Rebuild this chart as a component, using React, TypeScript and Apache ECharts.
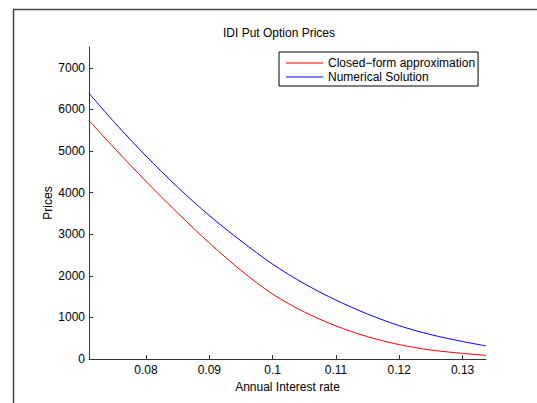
import React, { useEffect, useRef } from "react";
import * as echarts from "echarts";

const rates = [0.071, 0.075, 0.08, 0.085, 0.09, 0.095, 0.1, 0.105, 0.11, 0.115, 0.12, 0.125, 0.13, 0.1337];
const closedForm = [5730, 5070, 4270, 3510, 2790, 2130, 1560, 1130, 795, 535, 345, 215, 135, 88];
const numerical = [6390, 5690, 4880, 4130, 3450, 2840, 2280, 1810, 1416, 1080, 800, 585, 420, 315];
const xTicks = [0.08, 0.09, 0.1, 0.11, 0.12, 0.13];
const xTickLabels = ["0.08", "0.09", "0.1", "0.11", "0.12", "0.13"];
const yTicks = [0, 1000, 2000, 3000, 4000, 5000, 6000, 7000];
const seriesNames = ["Closed\u2212form approximation", "Numerical Solution"];
const titleText = "IDI Put Option Prices";
const xName = "Annual Interest rate";
const yName = "Prices";

const FONT = "'Liberation Sans', Arial, Helvetica, sans-serif";

export default function App() {
  const ref = useRef<HTMLDivElement>(null);
  useEffect(() => {
    if (!ref.current) return;
    const chart = echarts.init(ref.current, undefined, { renderer: "svg" });
    const axisColor = "#333";
    chart.setOption({
      animation: false,
      backgroundColor: "#fff",
      textStyle: { fontFamily: FONT },
      title: {
        text: titleText,
        left: 279,
        top: 27,
        textAlign: "center",
        padding: 0,
        textStyle: { fontSize: 12, fontWeight: "normal", color: "#000", fontFamily: FONT },
      },
      legend: {
        orient: "vertical",
        left: 279,
        top: 52,
        borderColor: "#000",
        borderWidth: 1,
        padding: [4, 3, 2, 7],
        itemGap: 0,
        itemWidth: 37,
        itemHeight: 1,
        icon: "rect",
        textStyle: { fontSize: 12, color: "#000", fontFamily: FONT, padding: [0, 0, 0, 0], lineHeight: 14 },
        data: seriesNames,
      },
      grid: { left: 89, top: 47, width: 397, height: 312, containLabel: false, outerBoundsMode: "none" },
      xAxis: {
        type: "value",
        min: 0.071,
        max: 0.1337,
        name: xName,
        nameLocation: "middle",
        nameGap: 22,
        nameMoveOverlap: false,
        nameTextStyle: { fontSize: 12, color: "#000", fontFamily: FONT },
        axisLine: { show: true, onZero: false, lineStyle: { color: axisColor, width: 1 } },
        axisTick: { show: true, inside: true, length: 4, customValues: xTicks, lineStyle: { color: axisColor } },
        axisLabel: {
          customValues: xTicks,
          margin: 5,
          fontSize: 12,
          color: "#000",
          fontFamily: FONT,
          formatter: (v: number) => {
            const i = xTicks.findIndex((t) => Math.abs(t - v) < 1e-9);
            return i >= 0 ? xTickLabels[i] : "";
          },
        },
        splitLine: { show: false },
      },
      yAxis: {
        type: "value",
        min: 0,
        max: 7500,
        name: yName,
        nameLocation: "middle",
        nameGap: 35,
        nameMoveOverlap: false,
        nameTextStyle: { fontSize: 12, color: "#000", fontFamily: FONT },
        axisLine: { show: true, lineStyle: { color: axisColor, width: 1 } },
        axisTick: { show: true, inside: true, length: 4, customValues: yTicks, lineStyle: { color: axisColor } },
        axisLabel: {
          customValues: yTicks,
          margin: 4,
          fontSize: 12,
          color: "#000",
          fontFamily: FONT,
          formatter: (v: number) => String(Math.round(v)),
        },
        splitLine: { show: false },
      },
      series: [
        {
          name: seriesNames[0],
          type: "line",
          data: rates.map((r, i) => [r, closedForm[i]]),
          showSymbol: false,
          smooth: 0.3,
          lineStyle: { color: "#ff0000", width: 1 },
          itemStyle: { color: "#ff0000" },
        },
        {
          name: seriesNames[1],
          type: "line",
          data: rates.map((r, i) => [r, numerical[i]]),
          showSymbol: false,
          smooth: 0.3,
          lineStyle: { color: "#0000ff", width: 1 },
          itemStyle: { color: "#0000ff" },
        },
      ],
      graphic: [
        { type: "line", shape: { x1: 13.5, y1: 9.5, x2: 13.5, y2: 403 }, style: { stroke: "#444", lineWidth: 1.5 } },
        { type: "line", shape: { x1: 13, y1: 9.5, x2: 537, y2: 9.5 }, style: { stroke: "#444", lineWidth: 1.5 } },
      ],
    });
    return () => chart.dispose();
  }, []);
  return <div ref={ref} style={{ position: "absolute", left: 0, top: 0, width: 537, height: 403 }} />;
}
